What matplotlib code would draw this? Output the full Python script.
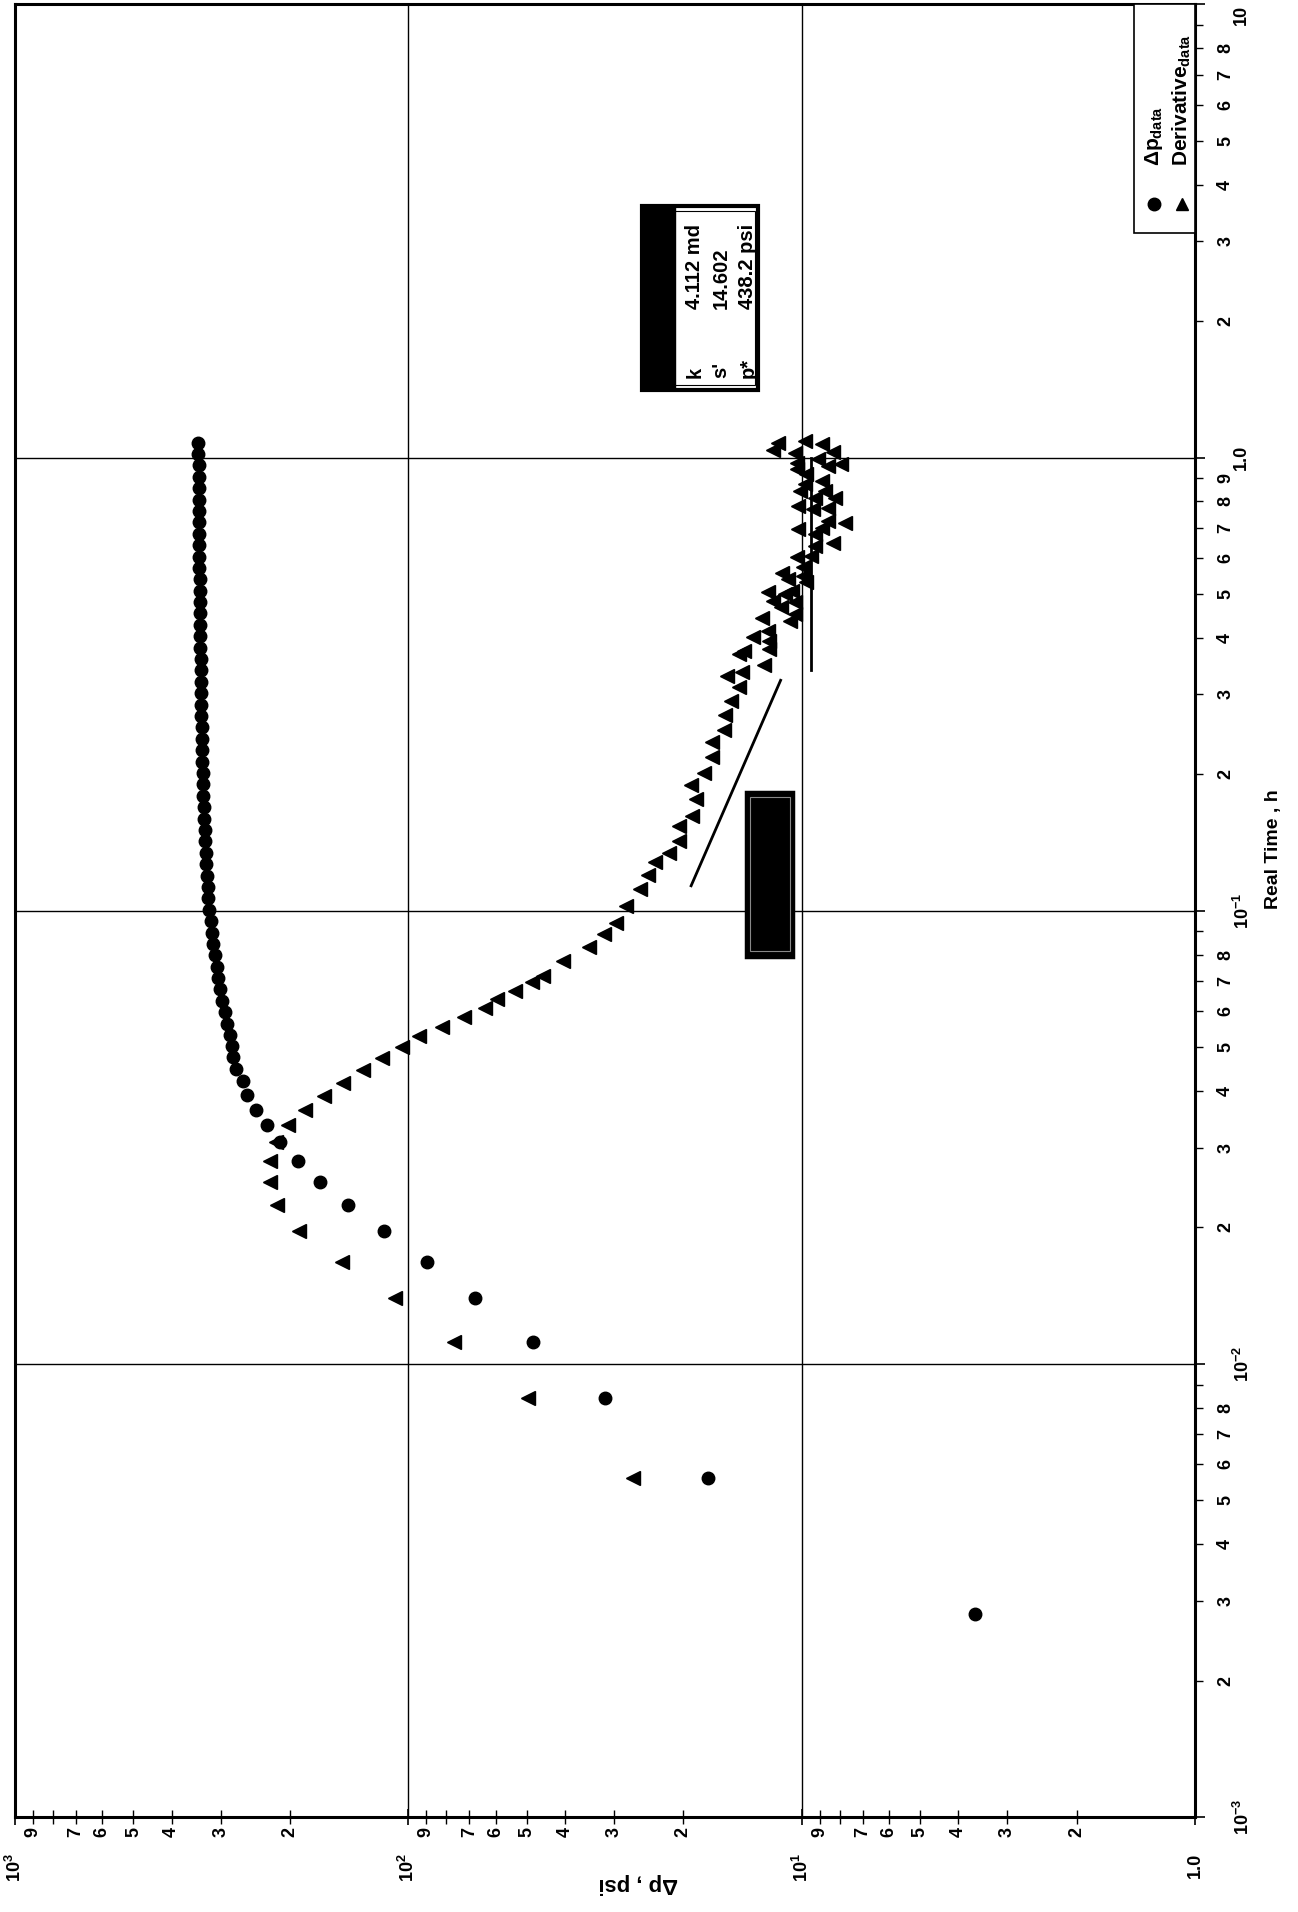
import matplotlib
matplotlib.use("Agg")
import matplotlib.pyplot as plt
from matplotlib.patches import Rectangle
from matplotlib.ticker import FixedLocator, FixedFormatter

plt.rcParams['font.family'] = ['Liberation Sans', 'DejaVu Sans']
plt.rcParams['font.weight'] = 'bold'
plt.rcParams['mathtext.fontset'] = 'custom'
plt.rcParams['mathtext.rm'] = 'Liberation Sans:bold'
plt.rcParams['mathtext.it'] = 'Liberation Sans:bold'
plt.rcParams['mathtext.default'] = 'rm'

# pressure change data (time in h, dp in psi)
t_dp = [0.0028, 0.0056, 0.0084, 0.0112, 0.014, 0.0168, 0.0196, 0.0224, 0.0252, 0.028,
        0.0308, 0.0336, 0.0364, 0.0392, 0.042, 0.0448, 0.0476, 0.0504, 0.0532,
        0.0563, 0.0597, 0.0632, 0.067, 0.071, 0.0752, 0.0797, 0.0845, 0.0895, 0.0948,
        0.1005, 0.1065, 0.1128, 0.1195, 0.1266, 0.1342, 0.1422, 0.1507, 0.1597, 0.1692,
        0.1793, 0.19, 0.2013, 0.2133, 0.226, 0.2395, 0.2538, 0.2689, 0.2849, 0.3019,
        0.3199, 0.339, 0.3592, 0.3806, 0.4033, 0.4273, 0.4528, 0.4798, 0.5084, 0.5387,
        0.5708, 0.6048, 0.6409, 0.6791, 0.7196, 0.7625, 0.8079, 0.8561, 0.9071, 0.9612,
        1.0185, 1.0792]
dp = [3.62, 17.3, 31.6, 48.2, 67.8, 89.8, 115, 142.5, 167.6, 190.3,
      211.9, 229, 244.4, 256.7, 263.6, 274, 278.6, 281, 284,
      289, 293, 297, 300.5, 304, 307, 310, 313, 315.5, 318,
      320.5, 322.5, 324, 325.5, 326.7, 327.8, 328.8, 329.7, 330.5, 331.3,
      332, 332.7, 333.3, 333.9, 334.4, 334.9, 335.4, 335.8, 336.2, 336.6,
      337, 337.3, 337.6, 337.9, 338.2, 338.5, 338.8, 339, 339.3, 339.5,
      339.7, 339.9, 340.1, 340.3, 340.5, 340.7, 340.9, 341.1, 341.3, 341.5,
      341.7, 341.9]

# derivative data
t_der = [0.0056, 0.0084, 0.0112, 0.014, 0.0168, 0.0196, 0.0224, 0.0252, 0.028, 0.0308,
         0.0336, 0.0363, 0.039, 0.0417, 0.0446, 0.0473, 0.05, 0.0528, 0.0555, 0.0582,
         0.061, 0.0638, 0.0666, 0.0695, 0.0719, 0.0776, 0.083, 0.0888, 0.094, 0.1026,
         0.1115, 0.12, 0.128, 0.1338, 0.1427, 0.1535, 0.162, 0.176, 0.189, 0.2015,
         0.2188, 0.2353, 0.2507, 0.27, 0.29, 0.312, 0.3295, 0.3356, 0.348,
         0.368, 0.374, 0.378, 0.394, 0.401, 0.414, 0.436, 0.443, 0.451, 0.467,
         0.479, 0.483, 0.499, 0.504, 0.508, 0.530, 0.539, 0.548, 0.557, 0.572,
         0.604, 0.607, 0.638, 0.649, 0.677, 0.695, 0.700, 0.718, 0.724, 0.771,
         0.775, 0.782, 0.815, 0.815, 0.844, 0.844, 0.873, 0.888, 0.918, 0.942,
         0.958, 0.969, 0.974, 0.991, 1.025, 1.03, 1.037, 1.072, 1.078, 1.09]
der = [26.8, 49.7, 76.4, 108.4, 147.6, 189.8, 216, 224.7, 224.7, 216.9,
       202.6, 183.6, 163.7, 146.7, 130.5, 116.7, 103.8, 93.7, 82.1, 72.3,
       64.0, 59.4, 53.6, 48.6, 45.5, 40.4, 34.8, 31.8, 29.7, 28.0,
       25.8, 24.6, 23.6, 21.7, 20.5, 20.5, 19.0, 18.6, 19.15, 17.7,
       16.9, 16.9, 15.8, 15.7, 15.1, 14.4, 15.5, 14.2, 12.45,
       14.4, 14.0, 12.1, 12.1, 13.3, 12.2, 10.7, 12.6, 10.4, 11.3,
       10.4, 11.85, 11.05, 12.2, 10.6, 9.73, 10.8, 9.92, 11.2, 9.92,
       10.3, 9.44, 9.26, 8.32, 9.26, 10.2, 8.9, 7.76, 8.56, 9.35,
       8.56, 10.2, 9.26, 8.23, 8.73, 10.1, 9.82, 8.9, 9.73, 10.3,
       8.56, 7.94, 10.3, 9.08, 10.4, 8.32, 11.8, 8.9, 11.5, 9.78]

# straight-line fits drawn on the plot
half_slope_t = [0.1135, 0.3224]
half_slope_dp = [19.1, 11.31]
flat_t = [0.339, 1.0]
flat_dp = [9.44, 9.44]

param_labels = ["k", "s'", "p*"]
param_values = ["4.112 md", "14.602", "438.2 psi"]

fig = plt.figure(figsize=(12.98, 19.12), dpi=100)
ax = fig.add_axes([0.0116, 0.0497, 0.909, 0.948])

ax.plot(dp, t_dp, 'o', color='black', markersize=9, zorder=3)
ax.plot(der, t_der, '<', color='black', markersize=10, zorder=3)
ax.plot(half_slope_dp, half_slope_t, '-', color='black', lw=2)
ax.plot(flat_dp, flat_t, '-', color='black', lw=2)

ax.set_xscale('log')
ax.set_yscale('log')
ax.set_xlim(1000, 1)
ax.set_ylim(1e-3, 10)

# pressure axis (bottom)
ax.xaxis.set_major_locator(FixedLocator([1, 10, 100, 1000]))
ax.xaxis.set_major_formatter(FixedFormatter(['1.0', '$10^{1}$', '$10^{2}$', '$10^{3}$']))
xminor = []
xminor_lab = []
for dec in [1, 10, 100]:
    for m in range(2, 10):
        xminor.append(m * dec)
        xminor_lab.append('' if m == 8 else str(m))
ax.xaxis.set_minor_locator(FixedLocator(xminor))
ax.xaxis.set_minor_formatter(FixedFormatter(xminor_lab))
ax.tick_params(axis='x', which='major', direction='inout', length=12, width=1.2,
               pad=20, labelsize=13, labelrotation=90)
ax.tick_params(axis='x', which='minor', direction='inout', length=10, width=1.0,
               pad=2, labelsize=13, labelrotation=90)

# time axis (right)
ax.yaxis.tick_right()
ax.yaxis.set_major_locator(FixedLocator([1e-3, 1e-2, 1e-1, 1, 10]))
ax.yaxis.set_major_formatter(FixedFormatter(['$10^{-3}$', '$10^{-2}$', '$10^{-1}$',
                                             '1.0', '10']))
yminor = []
yminor_lab = []
for dec in [1e-3, 1e-2, 1e-1, 1]:
    for m in range(2, 10):
        yminor.append(m * dec)
        yminor_lab.append(str(m) if (m < 9 or dec == 1e-1) else '')
ax.yaxis.set_minor_locator(FixedLocator(yminor))
ax.yaxis.set_minor_formatter(FixedFormatter(yminor_lab))
ax.tick_params(axis='y', which='major', direction='out', length=7, width=1.2,
               pad=20, labelsize=13, labelrotation=90)
ax.tick_params(axis='y', which='minor', direction='out', length=6, width=1.0,
               pad=10, labelsize=13, labelrotation=90)
for lab in ax.get_yticklabels(minor=True) + ax.get_yticklabels():
    lab.set_va('center')
ax.get_yticklabels()[-1].set_va('top')
for lab in ax.get_xticklabels(minor=True) + ax.get_xticklabels():
    lab.set_ha('center')

ax.grid(True, which='major', color='black', lw=1.0)
for s in ax.spines.values():
    s.set_linewidth(2.2)

fig.text(0.492, 0.015, 'Δp , psi', rotation=180, ha='center', va='center',
         fontsize=16, fontweight='bold')
fig.text(0.981, 0.556, 'Real Time , h', rotation=90, ha='center', va='center',
         fontsize=14, fontweight='bold')

# legend box in the upper right corner
ax.add_patch(Rectangle((0.948, 0.874), 0.052, 0.126, transform=ax.transAxes,
                       facecolor='white', edgecolor='black', lw=1.2, zorder=5))
ax.plot([0.965], [0.890], 'o', color='black', markersize=9, transform=ax.transAxes,
        zorder=6, clip_on=False)
ax.plot([0.989], [0.890], '^', color='black', markersize=9, transform=ax.transAxes,
        zorder=6, clip_on=False)
ax.text(0.965, 0.911, 'Δp$_{\\rm data}$', rotation=90, transform=ax.transAxes,
        ha='center', va='bottom', fontsize=15, zorder=6)
ax.text(0.989, 0.911, 'Derivative$_{\\rm data}$', rotation=90, transform=ax.transAxes,
        ha='center', va='bottom', fontsize=15, zorder=6)

# results box
ax.add_patch(Rectangle((0.531, 0.787), 0.099, 0.102, transform=ax.transAxes,
                       facecolor='white', edgecolor='black', lw=3, zorder=5))
ax.add_patch(Rectangle((0.534, 0.790), 0.093, 0.096, transform=ax.transAxes,
                       facecolor='none', edgecolor='black', lw=0.8, zorder=6))
ax.add_patch(Rectangle((0.531, 0.787), 0.028, 0.102, transform=ax.transAxes,
                       facecolor='black', edgecolor='black', lw=1, zorder=6))
for i, (lab, val) in enumerate(zip(param_labels, param_values)):
    xx = 0.576 + i * 0.0225
    ax.text(xx, 0.794, lab, rotation=90, transform=ax.transAxes, ha='center',
            va='bottom', fontsize=14.5, zorder=7)
    ax.text(xx, 0.832, val, rotation=90, transform=ax.transAxes, ha='center',
            va='bottom', fontsize=14.5, zorder=7)

# filled box near the straight line
ax.add_patch(Rectangle((0.6195, 0.4746), 0.0402, 0.091, transform=ax.transAxes,
                       facecolor='black', edgecolor='black', lw=2.5, zorder=5))
ax.add_patch(Rectangle((0.6225, 0.4776), 0.0342, 0.085, transform=ax.transAxes,
                       facecolor='none', edgecolor='#888888', lw=0.8, zorder=6))

fig.savefig('out.png', dpi=100)
